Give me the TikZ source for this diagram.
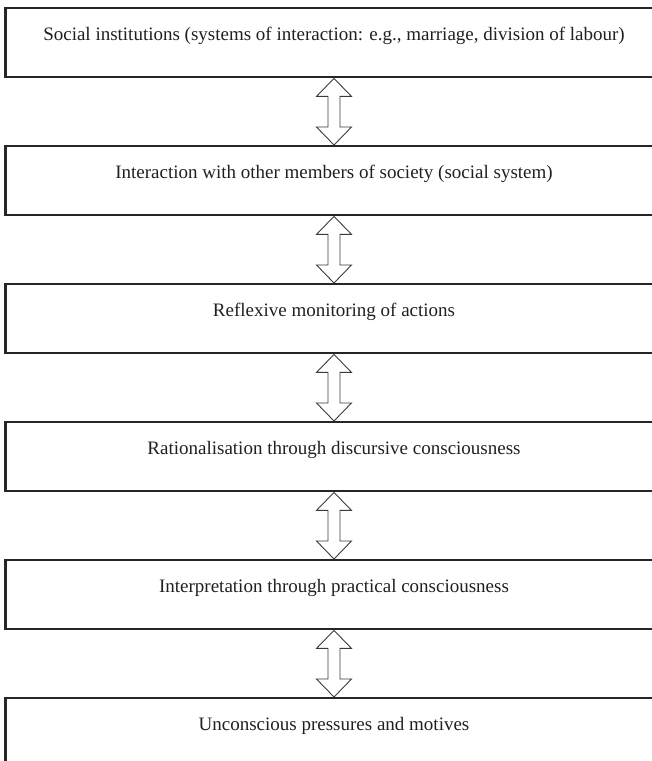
\documentclass[tikz,border=0pt]{standalone}
\usepackage{fontspec}
\setmainfont{Liberation Serif}
\usetikzlibrary{calc}
\definecolor{boxcol}{HTML}{262626}
\definecolor{txtcol}{HTML}{231F20}
\definecolor{arrcol}{HTML}{3A3A3A}
\begin{document}
\begin{tikzpicture}[x=1pt,y=-1pt,
  stage/.style={draw=boxcol, line width=2.4pt, minimum width=657pt, inner sep=0pt,
    text height=32pt, text depth=37pt, font=\fontsize{19}{23}\selectfont, text=txtcol, anchor=north},
  dblarrow/.style={draw=arrcol, line width=0.9pt, line join=miter}]
\useasboundingbox (0,0) rectangle (652,761);
\clip (0,0) rectangle (652,761);
\node[stage] (b1) at (334,7) {Social institutions (systems of interaction: e.g., marriage, division of labour)};
\node[stage] (b2) at (334,145) {Interaction with other members of society (social system)};
\node[stage] (b3) at (334,283) {Reflexive monitoring of actions};
\node[stage] (b4) at (334,421) {Rationalisation through discursive consciousness};
\node[stage] (b5) at (334,559) {Interpretation through practical consciousness};
\node[stage] (b6) at (334,697) {Unconscious pressures and motives};
\foreach \a/\b in {b1/b2,b2/b3,b3/b4,b4/b5,b5/b6}{
  \draw[dblarrow] (\a.south) -- ++(17.5,18) -- ++(-11.5,0) -- ($(\b.north)+(6,-18)$)
    -- ++(11.5,0) -- (\b.north) -- ++(-17.5,-18) -- ++(11.5,0)
    -- ($(\a.south)+(-6,18)$) -- ++(-11.5,0) -- cycle;
}
\end{tikzpicture}
\end{document}
